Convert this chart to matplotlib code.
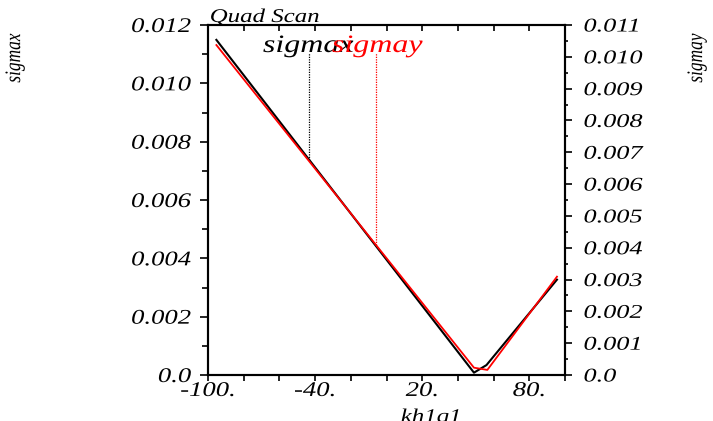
import numpy as np
import matplotlib.pyplot as plt
from matplotlib.patheffects import AbstractPathEffect
from matplotlib.transforms import Affine2D

# font: times-like italic everywhere
plt.rcParams['font.family'] = 'Liberation Serif'
plt.rcParams['font.style'] = 'italic'

# data
kh1q1_x = [-95.3, 49.0, 56.0, 95.5]
sigmax = [0.01149, 0.00008, 0.00034, 0.00327]
kh1q1_y = [-95.3, 49.0, 56.5, 95.5]
sigmay = [0.01037, 0.00023, 0.00016, 0.00309]

# legend marker positions (kh1q1)
mark_x = -43.4
mark_y = -6.0

xticks = [-100, -80, -60, -40, -20, 0, 20, 40, 60, 80, 100]
xticklabels = ["-100.", "", "", "-40.", "", "", "20.", "", "", "80.", ""]
lticks = [0.0, 0.002, 0.004, 0.006, 0.008, 0.010, 0.012]
lticklabels = ["0.0", "0.002", "0.004", "0.006", "0.008", "0.010", "0.012"]
rticks = [0.0, 0.001, 0.002, 0.003, 0.004, 0.005, 0.006, 0.007, 0.008, 0.009, 0.010, 0.011]
rticklabels = ["0.0", "0.001", "0.002", "0.003", "0.004", "0.005", "0.006",
               "0.007", "0.008", "0.009", "0.010", "0.011"]


# the original text is drawn wide, so stretch the glyph paths a bit
class Stretch(AbstractPathEffect):
    def __init__(self, sx=1.0, sy=1.0, anchor='left'):
        super().__init__()
        self.sx, self.sy, self.anchor = sx, sy, anchor

    def draw_path(self, renderer, gc, tpath, affine, rgbFace=None):
        ext = tpath.get_extents()
        x0 = {'left': ext.x0, 'center': (ext.x0 + ext.x1) / 2, 'right': ext.x1}[self.anchor]
        y0 = (ext.y0 + ext.y1) / 2
        st = Affine2D().translate(-x0, -y0).scale(self.sx, self.sy).translate(x0, y0)
        renderer.draw_path(gc, tpath, st + affine, rgbFace)


SX = 1.28

W, H = 713, 421
fig = plt.figure(figsize=(W/100, H/100), dpi=100)
ax = fig.add_axes([208/W, (H-375)/H, 357/W, 350/H])
ax2 = ax.twinx()

ax.plot(kh1q1_x, sigmax, color='black', lw=1.5)
ax2.plot(kh1q1_y, sigmay, color='red', lw=1.3)

# dotted drop lines from the labels to the curves
ax.plot([mark_x, mark_x], [np.interp(mark_x, kh1q1_x, sigmax), 0.01105],
        color='black', lw=0.9, ls=(0, (1, 1)))
ax2.plot([mark_y, mark_y], [np.interp(mark_y, kh1q1_y, sigmay), 0.01012],
         color='red', lw=0.9, ls=(0, (1, 1)))

ax.set_xlim(-100, 100)
ax.set_ylim(0, 0.012)
ax2.set_ylim(0, 0.011)

ax.set_xticks(xticks)
ax.set_xticklabels(xticklabels, fontsize=15)
ax.set_yticks(lticks)
ax.set_yticklabels(lticklabels, fontsize=15)
ax.set_yticks(np.arange(0.001, 0.012, 0.002), minor=True)
ax2.set_yticks(rticks)
ax2.set_yticklabels(rticklabels, fontsize=14)
ax2.set_yticks(np.arange(0.0005, 0.011, 0.001), minor=True)

ax.tick_params(axis='x', direction='out', length=4, width=1.2, pad=1, top=True)
ax.tick_params(axis='y', which='major', direction='out', length=5.5, width=1.2, pad=6.5)
ax.tick_params(axis='y', which='minor', direction='out', length=4, width=1.2)
ax2.tick_params(axis='y', which='major', direction='out', length=5, width=1.2, pad=8.5)
ax2.tick_params(axis='y', which='minor', direction='out', length=2.5, width=1.2)
for a in (ax, ax2):
    for s in a.spines.values():
        s.set_linewidth(1.5)

# top ticks point inward
for t in ax.xaxis.get_major_ticks():
    t.tick2line.set_marker(3)
    t.tick2line.set_markersize(4)

for lab in ax.get_xticklabels():
    lab.set_path_effects([Stretch(SX, 1, 'center')])
for lab in ax.get_yticklabels():
    lab.set_path_effects([Stretch(SX, 1, 'right')])
for lab in ax2.get_yticklabels():
    lab.set_path_effects([Stretch(1.35, 1, 'left')])

left_fx = [Stretch(SX, 1, 'left')]
fig.text(210/W, 1-22/H, "Quad Scan", fontsize=14, va='baseline', ha='left',
         path_effects=left_fx)
fig.text(263/W, 1-52/H, "sigmax", fontsize=18, color='black', va='baseline', ha='left',
         path_effects=left_fx)
fig.text(332/W, 1-52/H, "sigmay", fontsize=18, color='red', va='baseline', ha='left',
         path_effects=left_fx)
fig.text(431/W, 1-409/H, "kh1q1", fontsize=14, va='top', ha='center',
         path_effects=[Stretch(SX, 1, 'center')])
fig.text(15/W, 1-58/H, "sigmax", fontsize=12.5, rotation=90, va='center', ha='center',
         path_effects=[Stretch(1, SX, 'center')])
fig.text(697/W, 1-58/H, "sigmay", fontsize=12.5, rotation=90, va='center', ha='center',
         path_effects=[Stretch(1, SX, 'center')])

fig.savefig("out.png", dpi=100)
